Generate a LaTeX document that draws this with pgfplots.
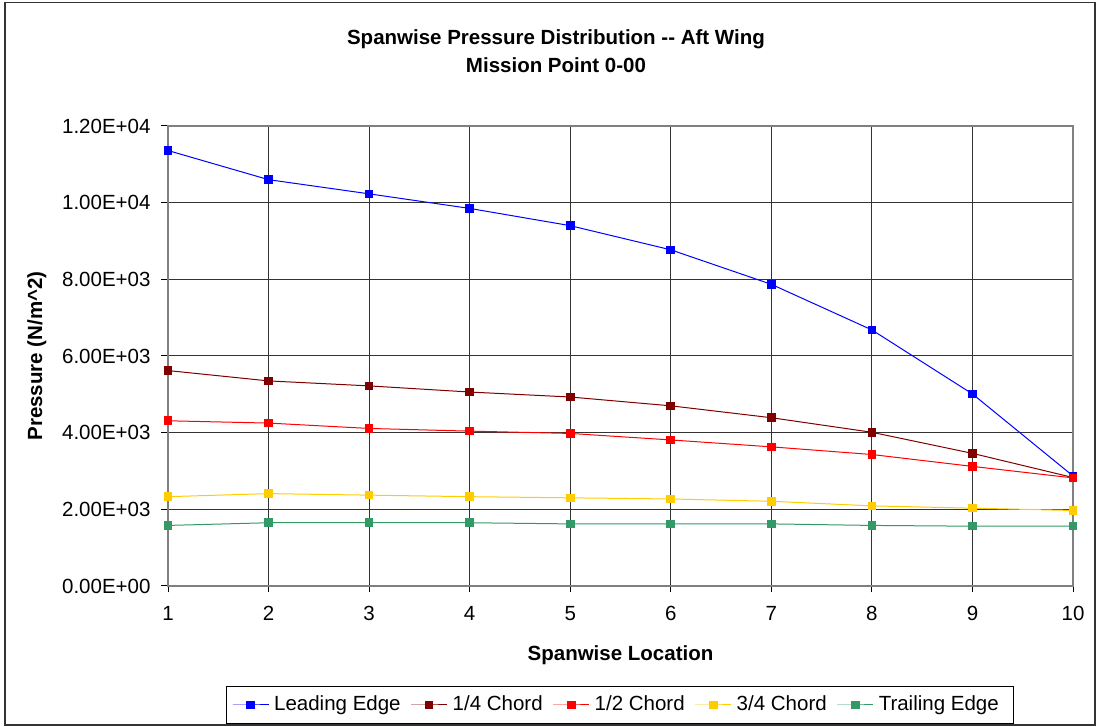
\documentclass[border=0pt]{standalone}
\usepackage{pgfplots}
\pgfplotsset{compat=1.18}
\usepackage{fontspec}
\setmainfont{Liberation Sans}
\definecolor{cLE}{RGB}{0,0,255}
\definecolor{cQC}{RGB}{128,0,0}
\definecolor{cHC}{RGB}{255,0,0}
\definecolor{cTQ}{RGB}{255,204,0}
\definecolor{cTE}{RGB}{51,153,102}
\begin{document}
\begin{tikzpicture}
\path[use as bounding box] (0pt,0pt) rectangle (1097pt,727pt);
\draw[black!80, line width=1.2pt] (5pt,2pt) rectangle (1095pt,724.5pt);
\begin{axis}[
  at={(168pt,141pt)}, anchor=south west,
  scale only axis, width=905pt, height=460pt,
  xmin=1, xmax=10, ymin=0, ymax=12000,
  xtick={1,2,...,10}, ytick={0,2000,...,12000},
  yticklabels={0.00E+00,2.00E+03,4.00E+03,6.00E+03,8.00E+03,1.00E+04,1.20E+04},
  scaled y ticks=false,
  /pgf/number format/assume math mode=true,
  tick label style={font=\fontsize{20.5}{24}\selectfont},
  xticklabel style={yshift=-10.5pt},
  yticklabel style={xshift=-7.5pt},
  axis line style={draw=black!50, line width=1.3pt},
  grid=major, major grid style={black!80, line width=1pt},
  tick align=outside, tick pos=left, major tick length=6.5pt,
  every tick/.style={black, line width=1pt},
  xlabel={Spanwise Location},
  xlabel style={at={(axis description cs:0.5,-0.15)}, anchor=center, font=\bfseries\fontsize{20.5}{24}\selectfont},
  ylabel={Pressure (N/m\^{}2)},
  ylabel style={at={(axis description cs:-0.1448,0.5)}, anchor=center, font=\bfseries\fontsize{20.5}{24}\selectfont},
  title={Spanwise Pressure Distribution -{}- Aft Wing\\Mission Point 0-00},
  title style={at={(axis description cs:0.4287,1.1498)}, anchor=center, align=center, font=\bfseries\fontsize{20.5}{27.5}\selectfont},
  every axis plot/.append style={line width=1pt, mark=square*, mark size=3.8pt, mark options={solid}},
  legend columns=5,
  legend image code/.code={\draw[mark repeat=2, mark phase=2] plot coordinates {(0pt,0pt) (18pt,0pt) (36pt,0pt)};},
  legend style={at={(axis description cs:0.4994,-0.2587)}, anchor=center, draw=black, line width=1pt,
    inner xsep=6pt, inner ysep=8.5pt, column sep=0pt, row sep=0pt,
    font=\fontsize{20.5}{24}\selectfont,
    nodes={inner xsep=0pt, inner ysep=0pt, text height=15pt, text depth=4.5pt}},
]
\addplot[color=cLE] coordinates {(1,11360) (2,10600) (3,10230) (4,9850) (5,9400) (6,8770) (7,7870) (8,6680) (9,5010) (10,2870)};
\addlegendentry{\kern5pt Leading Edge\kern10pt}
\addplot[color=cQC] coordinates {(1,5620) (2,5350) (3,5220) (4,5060) (5,4930) (6,4700) (7,4390) (8,4010) (9,3460) (10,2830)};
\addlegendentry{\kern5pt 1/4 Chord\kern10pt}
\addplot[color=cHC] coordinates {(1,4310) (2,4250) (3,4110) (4,4040) (5,3980) (6,3810) (7,3630) (8,3430) (9,3120) (10,2820)};
\addlegendentry{\kern5pt 1/2 Chord\kern10pt}
\addplot[color=cTQ] coordinates {(1,2330) (2,2410) (3,2370) (4,2330) (5,2300) (6,2270) (7,2210) (8,2090) (9,2030) (10,1970)};
\addlegendentry{\kern5pt 3/4 Chord\kern10pt}
\addplot[color=cTE] coordinates {(1,1580) (2,1650) (3,1650) (4,1650) (5,1620) (6,1620) (7,1620) (8,1580) (9,1560) (10,1560)};
\addlegendentry{\kern5pt Trailing Edge\kern9pt}
\end{axis}
\end{tikzpicture}
\end{document}
